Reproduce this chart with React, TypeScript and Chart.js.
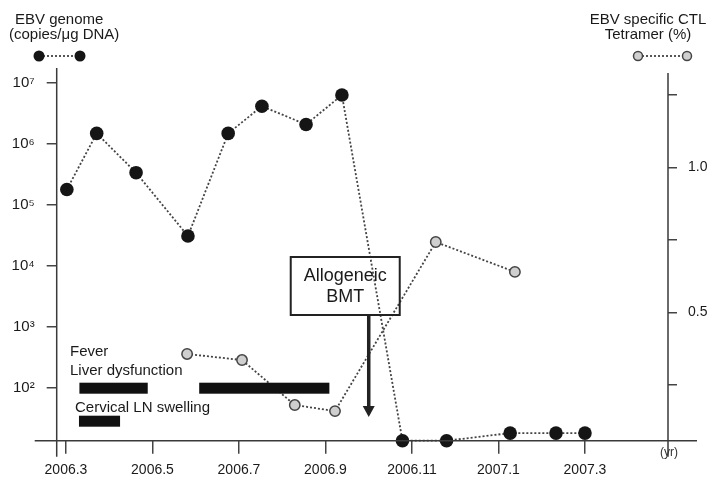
import { useEffect, useRef } from 'react';
import { Chart, registerables } from 'chart.js';
Chart.register(...registerables);

const FONT = '"Liberation Sans", Arial, Helvetica, sans-serif';

// x values: months since 2006.3
const xTickValues = [0, 2, 4, 6, 8, 10, 12];
const xTickLabels = ['2006.3', '2006.5', '2006.7', '2006.9', '2006.11', '2007.1', '2007.3'];

const leftTickValues = [1e2, 1e3, 1e4, 1e5, 1e6, 1e7];
const leftTickLabels = ['10²', '10³', '10⁴', '10⁵', '10⁶', '10⁷'];

const rightTickValues = [0.25, 0.5, 0.75, 1.0, 1.25];
const rightTickLabels = ['', '0.5', '', '1.0', ''];

// EBV genome (copies/µg DNA)
const ebvMonths = [0.02, 0.71, 1.62, 2.82, 3.75, 4.53, 5.55, 6.38, 7.78, 8.8, 10.27, 11.33, 12.0];
const ebvCopies = [1.8e5, 1.5e6, 3.4e5, 3.1e4, 1.5e6, 4.2e6, 2.1e6, 6.4e6, 13.5, 13.5, 18, 18, 18];

// EBV specific CTL tetramer (%)
const tetMonths = [2.8, 4.07, 5.29, 6.22, 8.55, 10.38];
const tetPercent = [0.357, 0.336, 0.181, 0.16, 0.743, 0.64];

// symptom periods (months)
const liverBars = [[0.31, 1.89], [3.08, 6.09]];
const lnBars = [[0.3, 1.25]];
const bmtMonth = 7.0;

const overlay = {
  id: 'overlay',
  afterDraw(chart: any) {
    const ctx = chart.ctx as CanvasRenderingContext2D;
    const { left, right, top, bottom } = chart.chartArea;
    const xs = chart.scales.x;
    ctx.save();
    // axis lines
    ctx.strokeStyle = '#3a3a3a';
    ctx.lineWidth = 1.5;
    ctx.beginPath();
    ctx.moveTo(left - 22, bottom);
    ctx.lineTo(right + 29, bottom);
    ctx.moveTo(left, top - 2);
    ctx.lineTo(left, bottom + 16);
    ctx.moveTo(right, top + 3);
    ctx.lineTo(right, bottom + 16);
    ctx.stroke();

    ctx.fillStyle = '#1a1a1a';
    ctx.textBaseline = 'middle';
    ctx.font = `15px ${FONT}`;
    ctx.textAlign = 'left';
    ctx.fillText('EBV genome', 15, 20);
    ctx.fillText('(copies/μg DNA)', 9, 35);
    ctx.textAlign = 'center';
    ctx.fillText('EBV specific CTL', 648, 20);
    ctx.fillText('Tetramer (%)', 648, 35);

    // legend markers
    const dotted = (x1: number, x2: number, y: number) => {
      ctx.save();
      ctx.strokeStyle = '#444';
      ctx.lineWidth = 1.8;
      ctx.setLineDash([2, 2]);
      ctx.beginPath();
      ctx.moveTo(x1, y);
      ctx.lineTo(x2, y);
      ctx.stroke();
      ctx.restore();
    };
    dotted(39, 80, 56);
    ctx.fillStyle = '#151515';
    for (const cx of [39, 80]) {
      ctx.beginPath();
      ctx.arc(cx, 56, 5.5, 0, Math.PI * 2);
      ctx.fill();
    }
    dotted(638, 687, 56);
    ctx.strokeStyle = '#444';
    ctx.lineWidth = 1.5;
    ctx.fillStyle = '#d0d0d0';
    for (const cx of [638, 687]) {
      ctx.beginPath();
      ctx.arc(cx, 56, 4.5, 0, Math.PI * 2);
      ctx.fill();
      ctx.stroke();
    }

    // symptom labels & bars
    ctx.fillStyle = '#1a1a1a';
    ctx.textAlign = 'left';
    ctx.font = `15px ${FONT}`;
    ctx.fillText('Fever', 70, 352);
    ctx.fillText('Liver dysfunction', 70, 371);
    ctx.fillText('Cervical LN swelling', 75, 408);
    ctx.fillStyle = '#111';
    for (const [a, b] of liverBars) {
      const x1 = xs.getPixelForValue(a);
      const x2 = xs.getPixelForValue(b);
      ctx.fillRect(x1, bottom - 58, x2 - x1, 11);
    }
    for (const [a, b] of lnBars) {
      const x1 = xs.getPixelForValue(a);
      const x2 = xs.getPixelForValue(b);
      ctx.fillRect(x1, bottom - 25, x2 - x1, 11);
    }

    // BMT box and arrow
    const ax = xs.getPixelForValue(bmtMonth);
    ctx.strokeStyle = '#222';
    ctx.lineWidth = 2;
    ctx.strokeRect(ax - 78, 257, 109, 58);
    ctx.fillStyle = '#1a1a1a';
    ctx.textAlign = 'center';
    ctx.font = `18px ${FONT}`;
    ctx.fillText('Allogeneic', ax - 23.5, 276);
    ctx.fillText('BMT', ax - 23.5, 297);
    ctx.fillStyle = '#222';
    ctx.fillRect(ax - 1.75, 315, 3.5, 92);
    ctx.beginPath();
    ctx.moveTo(ax - 6, 406);
    ctx.lineTo(ax + 6, 406);
    ctx.lineTo(ax, 417);
    ctx.closePath();
    ctx.fill();

    // (yr)
    ctx.font = `12px ${FONT}`;
    ctx.fillStyle = '#333';
    ctx.fillText('(yr)', right + 1, bottom + 12);
    ctx.restore();
  },
};

export default function App() {
  const ref = useRef<HTMLCanvasElement>(null);
  useEffect(() => {
    document.body.style.margin = '0';
    const canvas = ref.current!;
    const chart = new Chart(canvas, {
      type: 'line',
      data: {
        datasets: [
          {
            label: 'EBV genome',
            data: ebvMonths.map((m, i) => ({ x: m, y: ebvCopies[i] })),
            yAxisID: 'y',
            borderColor: '#444',
            borderWidth: 1.8,
            borderDash: [2, 2],
            pointRadius: 6.8,
            pointBackgroundColor: '#151515',
            pointBorderColor: '#151515',
            pointBorderWidth: 0,
            clip: false,
          } as any,
          {
            label: 'Tetramer',
            data: tetMonths.map((m, i) => ({ x: m, y: tetPercent[i] })),
            yAxisID: 'y1',
            borderColor: '#444',
            borderWidth: 1.8,
            borderDash: [2, 2],
            pointRadius: 5.2,
            pointBackgroundColor: '#cfcfcf',
            pointBorderColor: '#444',
            pointBorderWidth: 1.5,
            clip: false,
          } as any,
        ],
      },
      options: {
        responsive: false,
        devicePixelRatio: 1,
        animation: false,
        layout: { padding: { top: 70, left: 0, right: 0, bottom: 0 } },
        plugins: { legend: { display: false }, tooltip: { enabled: false } },
        scales: {
          x: {
            type: 'linear',
            position: 'bottom',
            min: -0.215,
            max: 13.92,
            afterBuildTicks: (s: any) => {
              s.ticks = xTickValues.map((v) => ({ value: v }));
            },
            afterFit: (s: any) => {
              s.height = 36.3;
            },
            grid: { drawOnChartArea: false, tickLength: 13, color: '#444', lineWidth: 1.5 },
            border: { display: false },
            ticks: {
              autoSkip: false,
              maxRotation: 0,
              padding: 8,
              color: '#1a1a1a',
              font: { family: FONT, size: 14 },
              callback: (v: any) => {
                const i = xTickValues.indexOf(Number(v));
                return i >= 0 ? xTickLabels[i] : '';
              },
            },
          },
          y: {
            type: 'logarithmic',
            position: 'left',
            min: 13.5,
            max: 1.65e7,
            afterBuildTicks: (s: any) => {
              s.ticks = leftTickValues.map((v) => ({ value: v }));
            },
            afterFit: (s: any) => {
              s.width = 56.7;
            },
            grid: { drawOnChartArea: false, tickLength: 10, color: '#444', lineWidth: 1.5 },
            border: { display: false },
            ticks: {
              autoSkip: false,
              padding: 12,
              color: '#1a1a1a',
              font: { family: FONT, size: 15 },
              callback: (v: any) => {
                const i = leftTickValues.indexOf(Number(v));
                return i >= 0 ? leftTickLabels[i] : '';
              },
            },
          },
          y1: {
            type: 'linear',
            position: 'right',
            min: 0.058,
            max: 1.336,
            afterBuildTicks: (s: any) => {
              s.ticks = rightTickValues.map((v) => ({ value: v }));
            },
            afterFit: (s: any) => {
              s.width = 48;
            },
            grid: { drawOnChartArea: false, tickLength: 9, color: '#444', lineWidth: 1.5 },
            border: { display: false },
            ticks: {
              autoSkip: false,
              padding: 11,
              color: '#1a1a1a',
              font: { family: FONT, size: 14 },
              callback: (v: any) => {
                const i = rightTickValues.indexOf(Number(v));
                return i >= 0 ? rightTickLabels[i] : '';
              },
            },
          },
        },
      },
      plugins: [overlay],
    });
    return () => chart.destroy();
  }, []);
  return (
    <canvas
      ref={ref}
      width={716}
      height={477}
      style={{ display: 'block', width: 716, height: 477 }}
    />
  );
}
